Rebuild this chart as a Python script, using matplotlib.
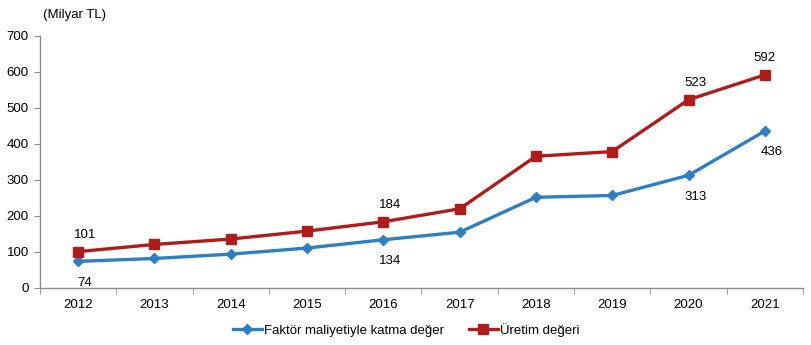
import matplotlib
matplotlib.use("Agg")
import matplotlib.pyplot as plt
import numpy as np

plt.rcParams['font.family'] = ['Liberation Sans', 'DejaVu Sans']

years = ["2012", "2013", "2014", "2015", "2016", "2017", "2018", "2019", "2020", "2021"]
katma_deger = [74, 82, 94, 111, 134, 155, 252, 257, 313, 436]
uretim_degeri = [101, 121, 136, 158, 184, 220, 366, 379, 523, 592]

# Years that carry value labels
labelled = ["2012", "2016", "2020", "2021"]

blue = "#2E7FC2"
red = "#AE1C1C"
grey = "#8C8C8C"

fig = plt.figure(figsize=(8.12, 3.45), dpi=100)
ax = fig.add_axes([40 / 812, 1 - 288 / 345, (803 - 40) / 812, (288 - 36) / 345])

x = np.arange(len(years))
ax.plot(x, katma_deger, color=blue, lw=2.4, marker="D", ms=5.5,
        label="Faktör maliyetiyle katma değer", zorder=3)
ax.plot(x, uretim_degeri, color=red, lw=2.4, marker="s", ms=7.5,
        label="Üretim değeri", zorder=3)

for i, yr in enumerate(years):
    if yr in labelled:
        dx_top = 0 if i == len(years) - 1 else 5
        ax.annotate(str(uretim_degeri[i]), (x[i], uretim_degeri[i]), xytext=(dx_top, 8),
                    textcoords="offset points", ha="center", va="bottom", fontsize=9.5)
        ax.annotate(str(katma_deger[i]), (x[i], katma_deger[i]), xytext=(5, -11),
                    textcoords="offset points", ha="center", va="top", fontsize=9.5)

ax.set_xlim(-0.5, len(years) - 0.5)
ax.set_ylim(0, 700)
ax.set_yticks(range(0, 701, 100))
ax.set_xticks(x)
ax.set_xticklabels(years)
ax.set_xticks(np.arange(-0.5, len(years), 1), minor=True)
ax.tick_params(axis="x", which="major", length=0, pad=8, labelsize=9.5)
ax.tick_params(axis="x", which="minor", length=4, color=grey, direction="out")
ax.tick_params(axis="y", length=4, color=grey, direction="out", labelsize=9.5, pad=4)

for side in ("top", "right"):
    ax.spines[side].set_visible(False)
for side in ("left", "bottom"):
    ax.spines[side].set_color(grey)
    ax.spines[side].set_linewidth(1.0)

fig.text(43 / 812, 1 - 15 / 345, "(Milyar TL)", fontsize=9.5, ha="left", va="center")

fig.legend(loc="center", bbox_to_anchor=(0.5, 1 - 330 / 345), ncol=2, frameon=False,
           fontsize=9.5, handlelength=2.2, handletextpad=0.15, columnspacing=1.9)

fig.savefig("out.png", dpi=100)
